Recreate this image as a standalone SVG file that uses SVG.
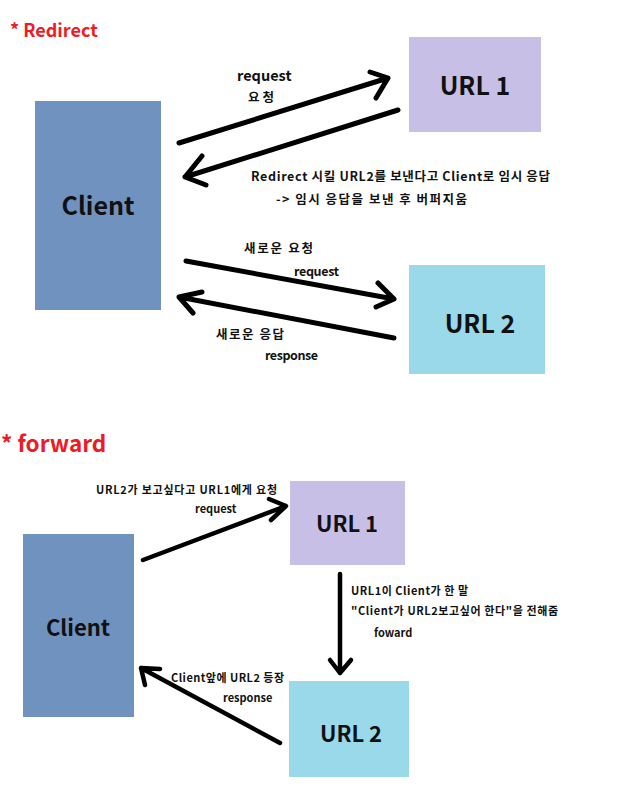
<svg xmlns="http://www.w3.org/2000/svg" width="628" height="789" viewBox="0 0 628 789">
<style>
text{font-family:"Noto Sans CJK KR","Noto Sans",sans-serif;font-weight:bold;fill:#111}
.title{fill:#ed1c24}
.big{font-size:25px;text-anchor:middle}
.mid{font-size:22px;text-anchor:middle}
.lbl{font-size:12.5px}
.sm{font-size:11px}
.arr{fill:none;stroke:#000;stroke-linecap:round;stroke-linejoin:round}
.a1{stroke-width:5}
.a2{stroke-width:4.5}
.client{fill:#7092be}
.u1{fill:#c8bfe7}
.u2{fill:#99d9ea}
</style>
<rect width="628" height="789" fill="#fff"/>
<text class="title" x="10" y="37" font-size="18">* Redirect</text>
<text class="title" x="1" y="452" font-size="22.5">* forward</text>

<g id="client1"><rect class="client" x="35" y="101" width="126" height="209"/><text class="big" x="98" y="215">Client</text></g>
<g id="url1a"><rect class="u1" x="409" y="37" width="132" height="95"/><text class="big" x="475" y="95">URL 1</text></g>
<g id="url2a"><rect class="u2" x="409" y="265" width="136" height="109"/><text class="big" x="480" y="333">URL 2</text></g>

<g id="client2"><rect class="client" x="23" y="534" width="111" height="183"/><text class="mid" x="78" y="636">Client</text></g>
<g id="url1b"><rect class="u1" x="290" y="481" width="115" height="84"/><text class="mid" x="347" y="532">URL 1</text></g>
<g id="url2b"><rect class="u2" x="289" y="681" width="120" height="96"/><text class="mid" x="351" y="742">URL 2</text></g>

<g id="connectors">
<path class="arr a1" d="M179 143 L388 78 M370 72 L388 78 L376 98"/>
<path class="arr a1" d="M398 110 L185 177 M202 156 L185 177 L206 185"/>
<path class="arr a1" d="M186 261 L394 299 M378 283 L394 299 L376 307"/>
<path class="arr a1" d="M394 338 L179 297 M202 292 L179 297 L193 313"/>
<path class="arr a2" d="M143 560 L286 506 M269 499 L286 506 L271 520"/>
<path class="arr a2" d="M340 574 L340 673 M330 660 L340 673 L351 660"/>
<path class="arr a2" d="M280 743 L141 668 M160 669 L141 668 L145 685"/>
</g>

<g id="labels">
<text x="237" y="81" style="font-size:14.5px">request</text>
<text class="lbl" x="248" y="102" textLength="26">요청</text>
<text class="lbl" x="251" y="181" textLength="299">Redirect 시킬 URL2를 보낸다고 Client로 임시 응답</text>
<text class="lbl" x="276" y="204" textLength="191">-&gt; 임시 응답을 보낸 후 버퍼지움</text>
<text class="lbl" x="244" y="253" textLength="69">새로운 요청</text>
<text class="lbl" x="294" y="276" textLength="45">request</text>
<text class="lbl" x="216" y="339" textLength="68">새로운 응답</text>
<text class="lbl" x="265" y="360" textLength="53">response</text>
<text class="sm" x="96" y="494" textLength="181">URL2가 보고싶다고 URL1에게 요청</text>
<text class="sm" x="195" y="513">request</text>
<text class="sm" x="351" y="595" textLength="117">URL1이 Client가 한 말</text>
<text class="sm" x="351" y="615" textLength="207">"Client가 URL2보고싶어 한다"을 전해줌</text>
<text class="sm" x="374" y="637">foward</text>
<text class="sm" x="171" y="682" textLength="113">Client앞에 URL2 등장</text>
<text class="sm" x="223" y="702">response</text>
</g>
</svg>
